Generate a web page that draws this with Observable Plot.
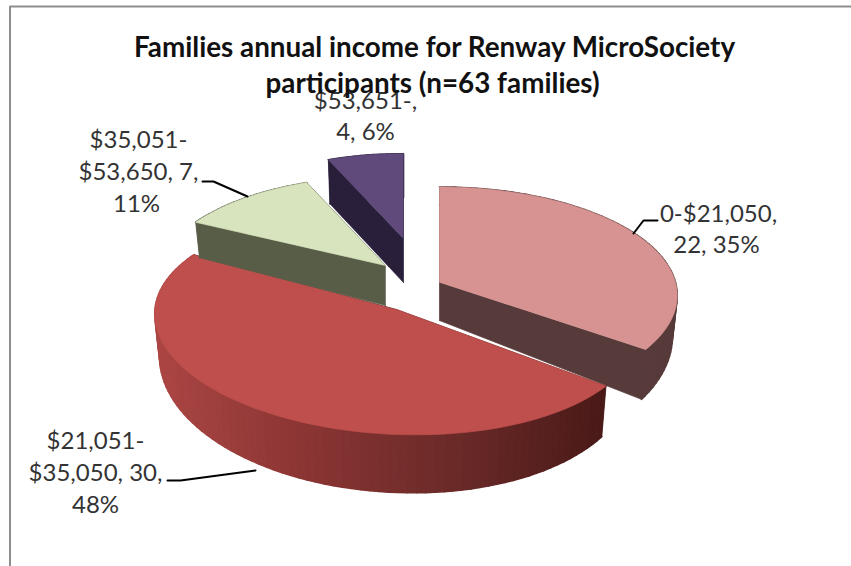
<!DOCTYPE html>
<html>
<head>
<meta charset="utf-8">
<script src="https://cdn.jsdelivr.net/npm/d3@7"></script>
<script src="https://cdn.jsdelivr.net/npm/@observablehq/plot@0.6"></script>
<style>html,body{margin:0;padding:0;background:#fff}</style>
</head>
<body>
<div id="chart"></div>
<script>
// ---- data ----
const categories = ["0-$21,050", "$21,051-$35,050", "$35,051-$53,650", "$53,651-"];
const families = [22, 30, 7, 4];

const titleLines = ["Families annual income for Renway MicroSociety", "participants (n=63 families)"];
const labelLines = [
  ["0-$21,050,", "22, 35%"],
  ["$21,051-", "$35,050, 30,", "48%"],
  ["$35,051-", "$53,650, 7,", "11%"],
  ["$53,651-,", "4, 6%"]
];

// ---- layout and style (not data) ----
const W = 851, H = 566, persp = 0.12, STEP = 2;
const topColors = ["#d79391", "#be4f4c", "#d7e4bd", "#604a7b"];
const sideColors = ["#573a3a", "#4a1a18", "#585d47", "#2a1f3a"];
const apexX = [439, 396, 385, 403];
const apexY = [282, 309, 265, 238];
const radiusX = [236, 240, 225, 215];
const radiusY = [107, 110, 100, 95];
const shear = [0, 0.036, 0, 0];
const depthBase = [38, 40, 40, 44];
const depthSlope = [20, 18, 10, 0];
const drawOrder = [0, 3, 1, 2];
const labelAnchors = [[[718, 214], [716, 245]], [[95, 441], [95, 473], [95, 505]], [[138, 140], [138, 172], [136, 204]], [[365, 101], [365, 132]]];
const leaderPaths = [
  [[633, 233], [643, 220], [657, 220]],
  [[167, 480], [180, 480], [255, 470]],
  [[202, 181], [213, 181], [247, 196]]
];
const wallRamp = d3.piecewise(d3.interpolateRgb, ["#ab4644", "#8a3533", "#6a2a28", "#4a1a18"]);

// ---- geometry from values ----
const arcs = d3.pie().sort(null)(families);
const polys = [];
let pid = 0;
function pt(i, deg, lower) {
  const t = deg * Math.PI / 180, u = Math.sin(t), v = -Math.cos(t), s = 1 / (1 - persp * v);
  let x = radiusX[i] * u * s, y = radiusY[i] * v * s + shear[i] * radiusX[i] * u * s;
  if (lower) { x *= 0.98; y += depthBase[i] + depthSlope[i] * v; }
  return [apexX[i] + x, apexY[i] + y];
}
function apex(i, lower) {
  return [apexX[i], apexY[i] + (lower ? depthBase[i] : 0)];
}
function addPoly(points, fill, sw) {
  const id = pid++;
  for (const [x, y] of points) polys.push({id, x, y, fill, sw});
}
for (const i of drawOrder) {
  const a0 = arcs[i].startAngle * 180 / Math.PI, a1 = arcs[i].endAngle * 180 / Math.PI;
  // radial cut faces
  for (const a of [a0, a1]) addPoly([apex(i, false), pt(i, a, false), pt(i, a, true), apex(i, true)], sideColors[i], 0.7);
  // outer wall
  for (let a = a0; a < a1; a += STEP) {
    const b = Math.min(a + STEP, a1), p = pt(i, a, false), q = pt(i, b, false);
    const fill = i === 1 ? wallRamp(Math.max(0, Math.min(1, ((p[0] + q[0]) / 2 - 155) / 450))) : sideColors[i];
    addPoly([p, q, pt(i, b, true), pt(i, a, true)], fill, 1.6);
  }
  // top face
  const top = [apex(i, false)];
  for (let a = a0; a < a1; a += STEP) top.push(pt(i, a, false));
  top.push(pt(i, a1, false));
  addPoly(top, topColors[i], 0.7);
}

const labelRows = labelLines.flatMap((lines, i) => lines.map((text, j) => ({text, x: labelAnchors[i][j][0], y: labelAnchors[i][j][1]})));
const titleRows = [
  {text: titleLines[0], x: 434, y: 48},
  {text: titleLines[1], x: 432, y: 84}
];
const leaders = leaderPaths.flatMap((path, id) => path.map(([x, y]) => ({id, x, y})));
const frame = [{x: 851, y: 6}, {x: 9.5, y: 6}, {x: 9.5, y: 566}];

const chart = Plot.plot({
  width: W, height: H, margin: 0,
  x: {domain: [0, W], range: [0, W], axis: null},
  y: {domain: [0, H], range: [0, H], axis: null},
  color: {type: "identity"},
  style: {background: "#fff", fontFamily: "Lato, 'Open Sans', sans-serif"},
  marks: [
    Plot.line(frame, {x: "x", y: "y", stroke: "#8e8e8e", strokeWidth: 2, curve: "linear"}),
    Plot.line(polys, {x: "x", y: "y", z: "id", fill: "fill", stroke: "fill", strokeWidth: "sw", curve: "linear"}),
    Plot.line(leaders, {x: "x", y: "y", z: "id", stroke: "#000", strokeWidth: 2, curve: "linear"}),
    Plot.text(labelRows, {x: "x", y: "y", text: "text", fontSize: 24, fill: "#333", textAnchor: "middle", lineAnchor: "middle"}),
    Plot.text(titleRows, {x: "x", y: "y", text: "text", fontSize: 27.8, fontWeight: 700, fill: "#111", textAnchor: "middle", lineAnchor: "middle"})
  ]
});
document.getElementById("chart").appendChild(chart);
</script>
</body>
</html>
